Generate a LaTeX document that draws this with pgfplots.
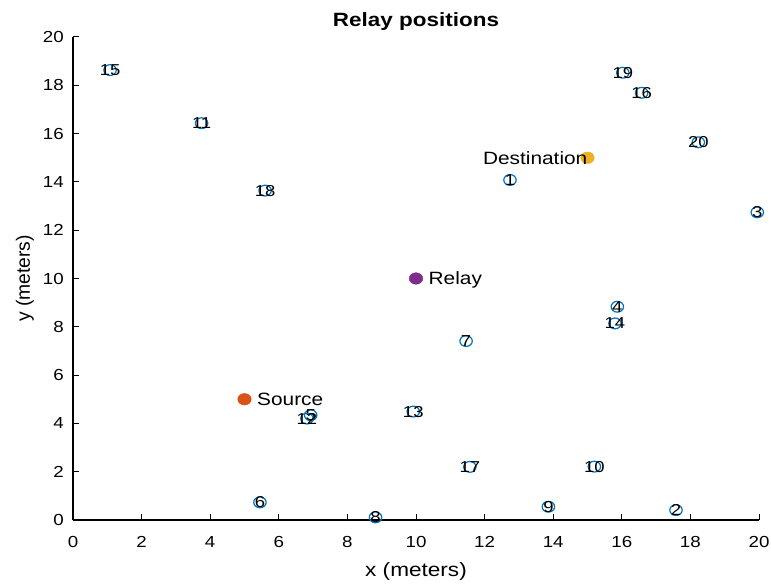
\documentclass[border=0pt]{standalone}
\usepackage{pgfplots}
\pgfplotsset{compat=1.18}
\usepackage{pgfplotstable}
\usepackage{fontspec}
\setmainfont{Liberation Sans}[FakeStretch=1.17]
\newfontfamily\plainsans{Liberation Sans}
\definecolor{mblue}{rgb}{0,0.447,0.741}
\definecolor{morange}{rgb}{0.850,0.325,0.098}
\definecolor{myellow}{rgb}{0.929,0.694,0.125}
\definecolor{mpurple}{rgb}{0.494,0.184,0.556}
\pgfplotstableread{
x y lab
12.74 14.08 1
17.58 0.41 2
19.95 12.74 3
15.87 8.83 4
6.93 4.34 5
5.45 0.73 6
11.46 7.41 7
8.82 0.11 8
13.86 0.55 9
15.20 2.21 10
3.75 16.43 11
6.82 4.20 12
9.92 4.49 13
15.80 8.14 14
1.08 18.63 15
16.58 17.69 16
11.57 2.20 17
5.60 13.64 18
16.03 18.52 19
18.23 15.64 20
}\relays
\begin{document}
\begin{tikzpicture}
\begin{axis}[
  scale only axis, width=686pt, height=483pt,
  xmin=0, xmax=20, ymin=0, ymax=20,
  axis lines=left, axis line style={-, line width=1.3pt},
  tick align=inside, major tick length=6pt,
  tick style={black, line width=1pt},
  xtick={0,2,...,20}, ytick={0,2,...,20},
  /pgf/number format/assume math mode=true,
  ticklabel style={font=\fontsize{16}{18}\selectfont, inner sep=0pt},
  xticklabel style={anchor=base, yshift=-27pt},
  yticklabel style={xshift=-9pt},
  xlabel={x (meters)}, ylabel={\plainsans y (meters)},
  label style={font=\fontsize{19.3}{21}\selectfont, inner sep=0pt},
  xlabel style={at={(axis description cs:0.5,-0.1056)}, anchor=center},
  ylabel style={at={(axis description cs:-0.0700,0.5)}, anchor=center},
  title={\textbf{Relay positions}},
  every axis title shift=0pt,
  title style={at={(axis description cs:0.5,1.0207)}, anchor=base, inner sep=0pt, font=\fontsize{19.2}{21}\selectfont},
  clip=false,
]
\addplot[only marks, mark=o, mark size=5.4pt, mark options={mblue, line width=1.2pt, xscale=1.15},
  nodes near coords, point meta=explicit symbolic,
  every node near coord/.append style={anchor=center, font=\fontsize{15.8}{17}\selectfont, text=black, inner sep=0pt}]
  table[x=x, y=y, meta=lab] {\relays};
\addplot[only marks, mark=*, mark size=5.8pt, mark options={xscale=1.17}, color=morange,
  nodes near coords={Source}, every node near coord/.append style={anchor=base west, inner sep=0pt, xshift=12.5pt, yshift=-6.4pt, font=\fontsize{17.8}{20}\selectfont, text=black}]
  coordinates {(5,5)};
\addplot[only marks, mark=*, mark size=5.8pt, mark options={xscale=1.17}, color=mpurple,
  nodes near coords={Relay}, every node near coord/.append style={anchor=base west, inner sep=0pt, xshift=12.5pt, yshift=-6.4pt, font=\fontsize{17.8}{20}\selectfont, text=black}]
  coordinates {(10,10)};
\addplot[only marks, mark=*, mark size=5.8pt, mark options={xscale=1.17}, color=myellow,
  nodes near coords={Destination}, every node near coord/.append style={anchor=base east, inner sep=0pt, xshift=0pt, yshift=-6.4pt, font=\fontsize{17.8}{20}\selectfont, text=black}]
  coordinates {(15,15)};
\path ([xshift=-73pt,yshift=-64pt]rel axis cs:0,0) rectangle ([xshift=12pt,yshift=37pt]rel axis cs:1,1);
\end{axis}
\end{tikzpicture}
\end{document}
